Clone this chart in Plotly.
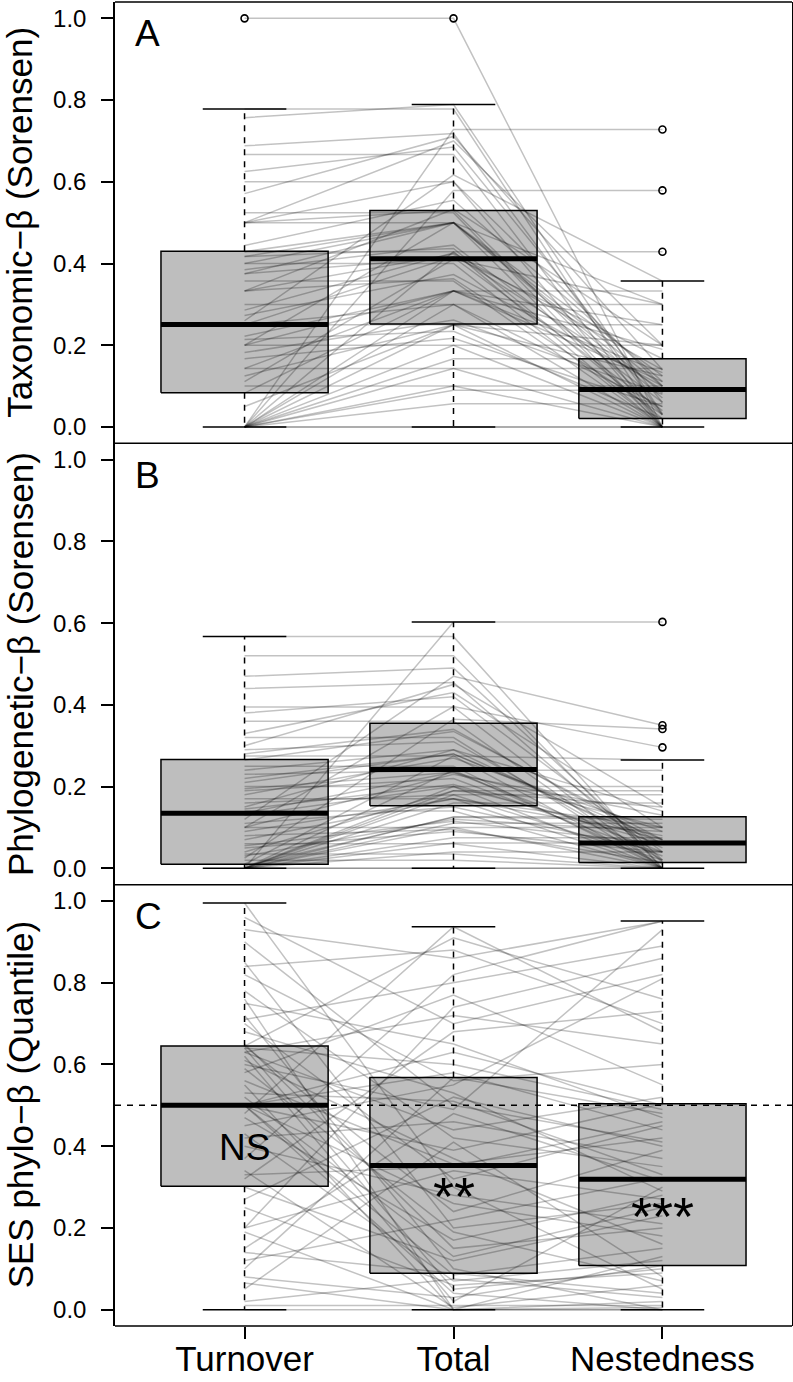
import plotly.graph_objects as go

# ---------------- data ----------------
categories = ["Turnover", "Total", "Nestedness"]
panel_letters = ["A", "B", "C"]
y_titles = ["Taxonomic−β (Sorensen)", "Phylogenetic−β (Sorensen)", "SES phylo−β (Quantile)"]
y_tick_vals = [0.0, 0.2, 0.4, 0.6, 0.8, 1.0]
y_tick_text = ["0.0", "0.2", "0.4", "0.6", "0.8", "1.0"]
sig_labels = ["NS", "**", "***"]

# Panel A: taxonomic beta diversity per site
tax_turnover = [1.000, 0.778, 0.757, 0.688, 0.667, 0.625, 0.600, 0.571, 0.524, 0.500,
                0.500, 0.500, 0.500, 0.444, 0.429, 0.429, 0.417, 0.417, 0.400, 0.400,
                0.385, 0.375, 0.375, 0.357, 0.333, 0.333, 0.333, 0.300, 0.286, 0.273,
                0.260, 0.250, 0.250, 0.250, 0.222, 0.214, 0.200, 0.200, 0.200, 0.182,
                0.167, 0.143, 0.143, 0.125, 0.111, 0.100, 0.083, 0.050, 0.000, 0.000,
                0.000, 0.000, 0.000, 0.000, 0.000, 0.000, 0.000, 0.000, 0.000, 0.000,
                0.000, 0.000]
tax_total = [1.000, 0.778, 0.789, 0.718, 0.667, 0.685, 0.600, 0.711, 0.524, 0.700,
             0.530, 0.600, 0.500, 0.555, 0.429, 0.500, 0.437, 0.500, 0.500, 0.400,
             0.445, 0.415, 0.500, 0.357, 0.363, 0.533, 0.423, 0.300, 0.426, 0.373,
             0.617, 0.300, 0.417, 0.250, 0.333, 0.234, 0.500, 0.333, 0.200, 0.262,
             0.217, 0.333, 0.143, 0.250, 0.411, 0.100, 0.333, 0.250, 0.728, 0.579,
             0.429, 0.333, 0.300, 0.250, 0.200, 0.167, 0.143, 0.100, 0.090, 0.057,
             0.000, 0.000]
tax_nestedness = [0.000, 0.000, 0.032, 0.030, 0.000, 0.060, 0.000, 0.140, 0.000, 0.200,
                  0.030, 0.100, 0.000, 0.111, 0.000, 0.071, 0.020, 0.083, 0.100, 0.000,
                  0.060, 0.040, 0.125, 0.000, 0.030, 0.200, 0.090, 0.000, 0.140, 0.100,
                  0.357, 0.050, 0.167, 0.000, 0.111, 0.020, 0.300, 0.133, 0.000, 0.080,
                  0.050, 0.190, 0.000, 0.125, 0.300, 0.000, 0.250, 0.200, 0.728, 0.579,
                  0.429, 0.333, 0.300, 0.250, 0.200, 0.167, 0.143, 0.100, 0.090, 0.057,
                  0.000, 0.000]

# Panel B: phylogenetic beta diversity per site
phy_turnover = [0.567, 0.520, 0.470, 0.440, 0.395, 0.380, 0.360, 0.330, 0.320, 0.300,
                0.290, 0.280, 0.275, 0.265, 0.250, 0.240, 0.230, 0.220, 0.210, 0.200,
                0.195, 0.190, 0.180, 0.170, 0.160, 0.150, 0.145, 0.140, 0.135, 0.130,
                0.120, 0.110, 0.100, 0.100, 0.090, 0.080, 0.100, 0.070, 0.060, 0.055,
                0.050, 0.040, 0.035, 0.030, 0.025, 0.020, 0.010, 0.005, 0.000, 0.000,
                0.000, 0.000, 0.000, 0.000, 0.000, 0.000, 0.000, 0.000, 0.000, 0.000,
                0.000, 0.000]
phy_total = [0.567, 0.520, 0.490, 0.455, 0.395, 0.420, 0.360, 0.430, 0.320, 0.450,
             0.310, 0.340, 0.275, 0.335, 0.250, 0.290, 0.240, 0.280, 0.280, 0.200,
             0.235, 0.220, 0.270, 0.170, 0.180, 0.290, 0.205, 0.140, 0.235, 0.200,
             0.470, 0.150, 0.230, 0.100, 0.170, 0.095, 0.396, 0.170, 0.060, 0.115,
             0.090, 0.190, 0.035, 0.120, 0.365, 0.020, 0.275, 0.125, 0.603, 0.240,
             0.200, 0.190, 0.180, 0.160, 0.126, 0.110, 0.100, 0.075, 0.062, 0.040,
             0.000, 0.000]
phy_nestedness = [0.000, 0.000, 0.020, 0.015, 0.000, 0.040, 0.000, 0.100, 0.000, 0.150,
                  0.020, 0.060, 0.000, 0.070, 0.000, 0.050, 0.010, 0.060, 0.070, 0.000,
                  0.040, 0.030, 0.090, 0.000, 0.020, 0.140, 0.060, 0.000, 0.100, 0.070,
                  0.350, 0.040, 0.130, 0.000, 0.080, 0.015, 0.296, 0.100, 0.000, 0.060,
                  0.040, 0.150, 0.000, 0.090, 0.341, 0.000, 0.265, 0.120, 0.603, 0.240,
                  0.200, 0.190, 0.180, 0.160, 0.126, 0.110, 0.100, 0.075, 0.062, 0.040,
                  0.000, 0.000]

# Panel C: SES phylo-beta quantiles per site
ses_turnover = [0.995, 0.960, 0.930, 0.900, 0.850, 0.840, 0.820, 0.780, 0.760, 0.750,
                0.720, 0.710, 0.700, 0.680, 0.650, 0.645, 0.645, 0.640, 0.640, 0.630,
                0.630, 0.620, 0.610, 0.600, 0.590, 0.580, 0.560, 0.550, 0.530, 0.520,
                0.500, 0.500, 0.500, 0.500, 0.500, 0.500, 0.480, 0.470, 0.450, 0.430,
                0.420, 0.400, 0.370, 0.340, 0.330, 0.320, 0.300, 0.270, 0.250, 0.200,
                0.200, 0.190, 0.150, 0.140, 0.120, 0.100, 0.080, 0.065, 0.050, 0.020,
                0.010, 0.000]
ses_total = [0.300, 0.700, 0.860, 0.500, 0.200, 0.880, 0.560, 0.420, 0.000, 0.650,
             0.100, 0.800, 0.320, 0.530, 0.150, 0.910, 0.240, 0.600, 0.050, 0.440,
             0.720, 0.020, 0.370, 0.490, 0.190, 0.770, 0.356, 0.000, 0.510, 0.130,
             0.085, 0.580, 0.260, 0.630, 0.040, 0.390, 0.937, 0.170, 0.550, 0.070,
             0.460, 0.280, 0.820, 0.005, 0.350, 0.680, 0.120, 0.520, 0.060, 0.740,
             0.340, 0.000, 0.480, 0.089, 0.220, 0.568, 0.030, 0.000, 0.410, 0.075,
             0.010, 0.000]
ses_nestedness = [0.050, 0.820, 0.950, 0.410, 0.260, 0.700, 0.600, 0.350, 0.130, 0.470,
                  0.000, 0.890, 0.450, 0.290, 0.200, 0.760, 0.390, 0.490, 0.100, 0.520,
                  0.650, 0.300, 0.160, 0.930, 0.070, 0.550, 0.420, 0.020, 0.330, 0.250,
                  0.150, 0.440, 0.180, 0.500, 0.000, 0.504, 0.680, 0.280, 0.810, 0.120,
                  0.370, 0.210, 0.951, 0.060, 0.460, 0.730, 0.230, 0.400, 0.090, 0.860,
                  0.270, 0.005, 0.315, 0.040, 0.323, 0.480, 0.108, 0.000, 0.080, 0.030,
                  0.010, 0.000]

# Box-plot statistics, order: Turnover, Total, Nestedness
tax_lower = [0.0, 0.0, 0.0]
tax_q1 = [0.084, 0.252, 0.021]
tax_median = [0.251, 0.412, 0.092]
tax_q3 = [0.430, 0.530, 0.167]
tax_upper = [0.778, 0.789, 0.357]
tax_outliers = [[1.0], [1.0], [0.728, 0.579, 0.429]]

phy_lower = [0.0, 0.0, 0.0]
phy_q1 = [0.010, 0.153, 0.014]
phy_median = [0.135, 0.242, 0.062]
phy_q3 = [0.266, 0.355, 0.126]
phy_upper = [0.567, 0.603, 0.265]
phy_outliers = [[], [], [0.603, 0.350, 0.341, 0.296]]

ses_lower = [0.0, 0.0, 0.0]
ses_q1 = [0.302, 0.089, 0.108]
ses_median = [0.500, 0.353, 0.319]
ses_q3 = [0.645, 0.568, 0.504]
ses_upper = [0.995, 0.937, 0.951]
ses_outliers = [[], [], []]
ses_null = 0.5

# ---------------- style ----------------
FONT = "Liberation Sans, Arial, Helvetica, sans-serif"
BOX_FILL = "#BEBEBE"
SITE_COLOR = "rgba(0,0,0,0.24)"
BW = 0.4      # half box width (category units)
CAP = 0.2     # half cap width
XR = [-0.62, 2.62]
YR = [-0.04, 1.04]
DASH = "6px,6px"

fig = go.Figure()

panels = [
    (tax_turnover, tax_total, tax_nestedness, tax_lower, tax_q1, tax_median, tax_q3, tax_upper, tax_outliers),
    (phy_turnover, phy_total, phy_nestedness, phy_lower, phy_q1, phy_median, phy_q3, phy_upper, phy_outliers),
    (ses_turnover, ses_total, ses_nestedness, ses_lower, ses_q1, ses_median, ses_q3, ses_upper, ses_outliers),
]

def ax_names(p):
    return ("x" if p == 0 else f"x{p+1}", "y" if p == 0 else f"y{p+1}")

def line_trace(x, y, xa, ya, color="black", width=1.5, dash=None):
    return go.Scatter(x=x, y=y, mode="lines", xaxis=xa, yaxis=ya,
                      line=dict(color=color, width=width, dash=dash),
                      hoverinfo="skip", showlegend=False)

for p, (turn, tot, nest, lo, q1, med, q3, up, outl) in enumerate(panels):
    xa, ya = ax_names(p)
    # box bodies (fill)
    for i in range(3):
        fig.add_trace(go.Scatter(
            x=[i - BW, i + BW, i + BW, i - BW, i - BW],
            y=[q1[i], q1[i], q3[i], q3[i], q1[i]],
            mode="lines", fill="toself", fillcolor=BOX_FILL,
            line=dict(width=0, color=BOX_FILL), xaxis=xa, yaxis=ya,
            hoverinfo="skip", showlegend=False))
    # paired site lines
    for a, b, c in zip(turn, tot, nest):
        fig.add_trace(line_trace([0, 1, 2], [a, b, c], xa, ya, color=SITE_COLOR, width=1.5))
    # box outlines, whiskers, caps, medians
    for i in range(3):
        fig.add_trace(line_trace([i - BW, i + BW, i + BW, i - BW, i - BW],
                                 [q1[i], q1[i], q3[i], q3[i], q1[i]], xa, ya, width=1.5))
        fig.add_trace(line_trace([i, i], [q3[i], up[i]], xa, ya, width=1.5, dash=DASH))
        fig.add_trace(line_trace([i, i], [q1[i], lo[i]], xa, ya, width=1.5, dash=DASH))
        fig.add_trace(line_trace([i - CAP, i + CAP], [up[i], up[i]], xa, ya, width=1.5))
        fig.add_trace(line_trace([i - CAP, i + CAP], [lo[i], lo[i]], xa, ya, width=1.5))
        fig.add_trace(line_trace([i - BW, i + BW], [med[i], med[i]], xa, ya, width=5))
        if outl[i]:
            fig.add_trace(go.Scatter(
                x=[i] * len(outl[i]), y=outl[i], mode="markers", xaxis=xa, yaxis=ya,
                marker=dict(symbol="circle-open", size=7, color="black", line=dict(width=1.6)),
                hoverinfo="skip", showlegend=False))

# ---------------- layout ----------------
H = 1382
W = 793
domains = [[2 / 3, 1.0], [1 / 3, 2 / 3], [0.0, 1 / 3]]

layout = dict(
    width=W, height=H, autosize=False,
    margin=dict(l=115, r=1, t=2, b=56, autoexpand=False),
    paper_bgcolor="white", plot_bgcolor="white",
    font=dict(family=FONT, color="black"),
    showlegend=False,
)
for p in range(3):
    xa, ya = ax_names(p)
    xkey = "xaxis" if p == 0 else f"xaxis{p+1}"
    ykey = "yaxis" if p == 0 else f"yaxis{p+1}"
    last = (p == 2)
    layout[xkey] = dict(
        range=XR, anchor=ya, domain=[0, 1], showgrid=False, zeroline=False,
        showline=False, automargin=False,
        tickvals=[0, 1, 2] if last else [], ticktext=categories if last else [],
        ticks="outside" if last else "", ticklen=12, tickwidth=1.5, tickcolor="black",
        showticklabels=last, tickfont=dict(size=35, family=FONT, color="black"),
        ticklabelstandoff=-10 if last else 0,
        fixedrange=True,
    )
    layout[ykey] = dict(
        range=YR, anchor=xa, domain=domains[p], showgrid=False, zeroline=False,
        showline=True, mirror=True, linecolor="black", linewidth=1.5, automargin=False,
        tickvals=y_tick_vals, ticktext=y_tick_text,
        ticks="outside", ticklen=12, tickwidth=1.5, tickcolor="black",
        tickfont=dict(size=24, family=FONT, color="black"), ticklabelstandoff=10,
        fixedrange=True,
    )

fig.update_layout(**layout)

# horizontal frame lines (single line at each panel boundary)
for yb in [1.0, 2 / 3, 1 / 3, 0.0]:
    fig.add_shape(type="line", xref="paper", yref="paper", x0=0, x1=1, y0=yb, y1=yb,
                  layer="above", line=dict(color="black", width=1.5))

annotations = []
for p in range(3):
    xa, ya = ax_names(p)
    d0, d1 = domains[p]
    annotations.append(dict(
        text=y_titles[p], textangle=-90, xref="paper", yref="paper",
        x=-0.1403, y=(d0 + d1) / 2, xanchor="center", yanchor="middle",
        showarrow=False, font=dict(size=35, family=FONT, color="black")))
    annotations.append(dict(
        text=panel_letters[p], xref="paper", yref=ya,
        x=0.0266, y=0.962, xanchor="left", yanchor="middle",
        showarrow=False, font=dict(size=37, family=FONT, color="black")))

sig_y = [0.397, 0.279, 0.229]
sig_size = [37, 54, 54]
for i in range(3):
    annotations.append(dict(
        text=sig_labels[i], xref="x3", yref="y3", x=i, y=sig_y[i],
        xanchor="center", yanchor="middle", showarrow=False,
        font=dict(size=sig_size[i], family=FONT, color="black")))
fig.update_layout(annotations=annotations)

fig.add_shape(type="line", xref="x3 domain", yref="y3", x0=0, x1=1,
              y0=ses_null, y1=ses_null, layer="above",
              line=dict(color="black", width=1.5, dash=DASH))

fig.write_html(
    "out.html",
    config={"responsive": False, "displayModeBar": False},
    post_script="document.documentElement.style.margin='0';document.body.style.margin='0';"
                "document.body.style.padding='0';document.body.style.overflow='hidden';",
)
